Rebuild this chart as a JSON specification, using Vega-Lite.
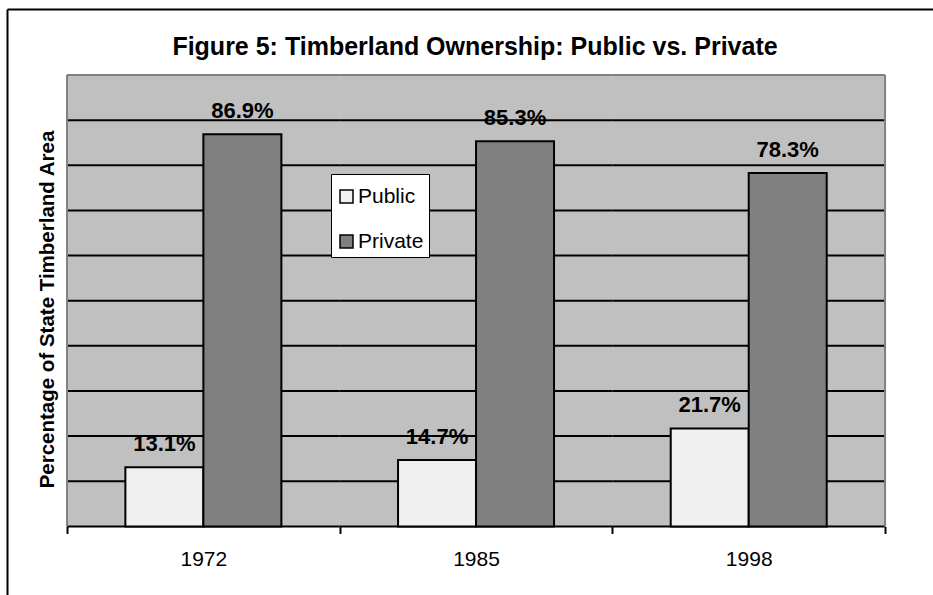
{
  "$schema": "https://vega.github.io/schema/vega-lite/v6.json",
  "autosize": "none",
  "width": 926,
  "height": 586,
  "padding": {"left": 7, "top": 9, "right": 0, "bottom": 0},
  "background": "white",
  "config": {
    "view": {"stroke": null},
    "font": "Liberation Sans"
  },
  "title": {
    "text": "Figure 5: Timberland Ownership: Public vs. Private",
    "anchor": "middle",
    "frame": "group",
    "orient": "top",
    "offset": -45,
    "baseline": "alphabetic",
    "dx": 5,
    "dy": 26,
    "fontSize": 25,
    "font": "Liberation Sans",
    "fontWeight": "bold",
    "color": "black"
  },
  "datasets": {
    "shares": [
      {"year": "1972", "owner": "Public", "value": 13.1, "label": "13.1%"},
      {"year": "1972", "owner": "Private", "value": 86.9, "label": "86.9%"},
      {"year": "1985", "owner": "Public", "value": 14.7, "label": "14.7%"},
      {"year": "1985", "owner": "Private", "value": 85.3, "label": "85.3%"},
      {"year": "1998", "owner": "Public", "value": 21.7, "label": "21.7%"},
      {"year": "1998", "owner": "Private", "value": 78.3, "label": "78.3%"}
    ],
    "panel": [
      {"year": "1972", "lo": 0, "hi": 100},
      {"year": "1985", "lo": 0, "hi": 100},
      {"year": "1998", "lo": 0, "hi": 100}
    ],
    "grid": [
      {"g": 0, "year": ["1972", "1985", "1998"]},
      {"g": 10, "year": ["1972", "1985", "1998"]},
      {"g": 20, "year": ["1972", "1985", "1998"]},
      {"g": 30, "year": ["1972", "1985", "1998"]},
      {"g": 40, "year": ["1972", "1985", "1998"]},
      {"g": 50, "year": ["1972", "1985", "1998"]},
      {"g": 60, "year": ["1972", "1985", "1998"]},
      {"g": 70, "year": ["1972", "1985", "1998"]},
      {"g": 80, "year": ["1972", "1985", "1998"]},
      {"g": 90, "year": ["1972", "1985", "1998"]}
    ],
    "edgeTop": [
      {"year": "1972", "g": 100},
      {"year": "1985", "g": 100},
      {"year": "1998", "g": 100}
    ],
    "edgeLeft": [{"year": "1972", "lo": 0, "hi": 100}],
    "edgeRight": [{"year": "1998", "lo": 0, "hi": 100}]
  },
  "resolve": {"axis": {"x": "independent", "y": "independent"}},
  "layer": [
    {
      "data": {"name": "panel"},
      "mark": {"type": "bar", "fill": "#c0c0c0", "stroke": "#c0c0c0", "strokeWidth": 1, "width": {"band": 1}},
      "encoding": {
        "x": {
          "field": "year", "type": "nominal",
          "scale": {"domain": ["1972", "1985", "1998"], "paddingInner": 0, "paddingOuter": 0.198, "align": 0.556},
          "axis": {
            "orient": "bottom", "title": null, "offset": -68.6,
            "domain": false, "grid": false,
            "ticks": true, "tickBand": "extent", "tickSize": 7, "tickWidth": 2, "tickColor": "black",
            "labelAngle": 0, "labelFontSize": 21, "labelFont": "Liberation Sans", "labelColor": "black", "labelPadding": 15
          }
        },
        "y": {
          "field": "lo", "type": "quantitative",
          "scale": {"domain": [-15.2, 114.62], "nice": false, "zero": false},
          "axis": {
            "orient": "left", "domain": true, "domainColor": "black", "domainWidth": 2,
            "ticks": false, "labels": false, "grid": false,
            "title": "Percentage of State Timberland Area",
            "titleFont": "Liberation Sans", "titleFontSize": 20.5, "titleFontWeight": "bold", "titleColor": "black",
            "titleAngle": -90, "titleAlign": "center", "titleBaseline": "alphabetic",
            "titleX": 46, "titleY": 300
          }
        },
        "y2": {"field": "hi"}
      }
    },
    {
      "data": {"name": "grid"},
      "transform": [{"flatten": ["year"]}],
      "mark": {"type": "bar", "fillOpacity": 0, "stroke": "black", "strokeWidth": 2, "width": {"band": 1}},
      "encoding": {
        "x": {"field": "year", "type": "nominal", "scale": {"domain": ["1972", "1985", "1998"], "paddingInner": 0, "paddingOuter": 0.198, "align": 0.556}, "axis": null},
        "y": {"field": "g", "type": "quantitative", "scale": {"domain": [-15.2, 114.62], "nice": false, "zero": false}, "axis": null},
        "y2": {"field": "g"}
      }
    },
    {
      "data": {"name": "edgeTop"},
      "mark": {"type": "bar", "fillOpacity": 0, "stroke": "#808080", "strokeWidth": 2, "width": {"band": 1}},
      "encoding": {
        "x": {
          "field": "year", "type": "nominal",
          "scale": {"domain": ["1972", "1985", "1998"], "paddingInner": 0, "paddingOuter": 0.198, "align": 0.556},
          "axis": {"orient": "top", "title": null, "labels": false, "ticks": false, "grid": false, "domain": true, "domainColor": "black", "domainWidth": 2}
        },
        "y": {"field": "g", "type": "quantitative", "scale": {"domain": [-15.2, 114.62], "nice": false, "zero": false}, "axis": null},
        "y2": {"field": "g"}
      }
    },
    {
      "data": {"name": "edgeLeft"},
      "mark": {"type": "rule", "stroke": "#808080", "strokeWidth": 2},
      "encoding": {
        "x": {"field": "year", "type": "nominal", "bandPosition": 0, "scale": {"domain": ["1972", "1985", "1998"], "paddingInner": 0, "paddingOuter": 0.198, "align": 0.556}, "axis": null},
        "y": {"field": "lo", "type": "quantitative", "scale": {"domain": [-15.2, 114.62], "nice": false, "zero": false}, "axis": null},
        "y2": {"field": "hi"}
      }
    },
    {
      "data": {"name": "edgeRight"},
      "mark": {"type": "rule", "stroke": "#808080", "strokeWidth": 2},
      "encoding": {
        "x": {"field": "year", "type": "nominal", "bandPosition": 1, "scale": {"domain": ["1972", "1985", "1998"], "paddingInner": 0, "paddingOuter": 0.198, "align": 0.556}, "axis": null},
        "y": {"field": "lo", "type": "quantitative", "scale": {"domain": [-15.2, 114.62], "nice": false, "zero": false}, "axis": null},
        "y2": {"field": "hi"}
      }
    },
    {
      "data": {"name": "shares"},
      "mark": {"type": "bar", "stroke": "black", "strokeWidth": 2},
      "encoding": {
        "x": {"field": "year", "type": "nominal", "scale": {"domain": ["1972", "1985", "1998"], "paddingInner": 0, "paddingOuter": 0.198, "align": 0.556}, "axis": null},
        "xOffset": {"field": "owner", "type": "nominal", "sort": ["Public", "Private"], "scale": {"paddingInner": 0, "paddingOuter": 0.748}},
        "y": {"field": "value", "type": "quantitative", "scale": {"domain": [-15.2, 114.62], "nice": false, "zero": false}, "axis": null},
        "y2": {"datum": 0},
        "color": {
          "field": "owner", "type": "nominal",
          "scale": {"domain": ["Public", "Private"], "range": ["#f0f0f0", "#808080"]},
          "legend": {
            "orient": "none", "legendX": 324, "legendY": 165,
            "title": " ", "titleFontSize": 7, "titlePadding": 0,
            "fillColor": "white", "strokeColor": "black",
            "padding": 5, "rowPadding": 23,
            "symbolType": "square", "symbolSize": 169, "symbolStrokeColor": "black", "symbolStrokeWidth": 1.5,
            "symbolOffset": 0, "labelOffset": 1,
            "labelFontSize": 21, "labelFont": "Liberation Sans", "labelColor": "black"
          }
        }
      }
    },
    {
      "data": {"name": "shares"},
      "mark": {"type": "text", "baseline": "alphabetic", "align": "center", "dy": -16, "fontSize": 22, "fontWeight": "bold", "font": "Liberation Sans", "color": "black"},
      "encoding": {
        "x": {"field": "year", "type": "nominal", "scale": {"domain": ["1972", "1985", "1998"], "paddingInner": 0, "paddingOuter": 0.198, "align": 0.556}, "axis": null},
        "xOffset": {"field": "owner", "type": "nominal", "sort": ["Public", "Private"], "scale": {"paddingInner": 0, "paddingOuter": 0.748}},
        "y": {"field": "value", "type": "quantitative", "scale": {"domain": [-15.2, 114.62], "nice": false, "zero": false}, "axis": null},
        "text": {"field": "label", "type": "nominal"}
      }
    }
  ]
}
